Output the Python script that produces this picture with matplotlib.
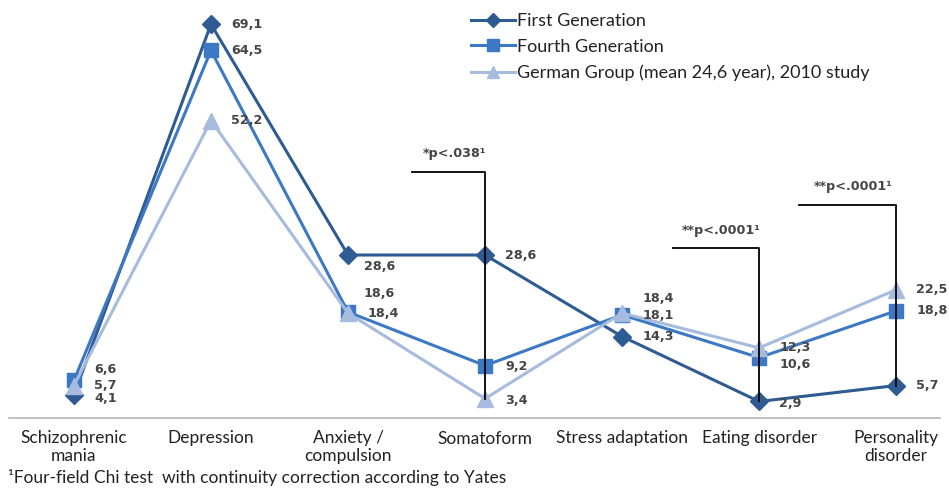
import matplotlib.pyplot as plt

categories = ["Schizophrenic\nmania", "Depression", "Anxiety /\ncompulsion", "Somatoform",
              "Stress adaptation", "Eating disorder", "Personality\ndisorder"]

first_gen = [4.1, 69.1, 28.6, 28.6, 14.3, 2.9, 5.7]
fourth_gen = [6.6, 64.5, 18.6, 9.2, 18.1, 10.6, 18.8]
german = [5.7, 52.2, 18.4, 3.4, 18.4, 12.3, 22.5]

series_names = ["First Generation", "Fourth Generation",
                "German Group (mean 24,6 year), 2010 study"]

# significance brackets: (category index, text)
sig_marks = [(3, "*p<.038\u00b9"), (5, "**p<.0001\u00b9"), (6, "**p<.0001\u00b9")]

footnote = "\u00b9Four-field Chi test  with continuity correction according to Yates"

W, H = 949, 491
fig = plt.figure(figsize=(W / 100, H / 100), dpi=100)
ax = fig.add_axes([9 / W, 1 - 418 / H, 931 / W, 416 / H])

x = list(range(len(categories)))
styles = [
    (first_gen, "#2f5b93", "D", 9),
    (fourth_gen, "#3c78c3", "s", 10),
    (german, "#a6bbde", "^", 11),
]
for (vals, col, mk, ms), name in zip(styles, series_names):
    ax.plot(x, vals, color=col, lw=2.2, marker=mk, ms=ms, mec=col, mfc=col,
            label=name, zorder=3)

# value labels, offsets in pixels (dx, dy)
offsets = [
    [(20, -4), (20, 0), (16, -11), (20, 0), (20, 0), (20, -2), (20, 0)],
    [(20, 11), (20, 0), (16, 19), (20, -1), (20, -1), (20, -7), (20, 0)],
    [(20, 0), (20, 0), (20, 0), (20, -2), (20, 15), (20, 0), (20, 0)],
]
lab_style = dict(fontsize=9.2, fontweight="bold", color="#454545")
for (vals, col, mk, ms), offs in zip(styles, offsets):
    for xi, v, (dx, dy) in zip(x, vals, offs):
        ax.annotate(f"{v:.1f}".replace(".", ","), (xi, v), xytext=(dx, dy),
                    textcoords="offset pixels", ha="left", va="center",
                    zorder=5, **lab_style)

# significance brackets
brackets = {3: (2.47, 43.2, 3.4), 5: (4.37, 29.8, 2.9), 6: (5.29, 37.4, 5.7)}
for idx, txt in sig_marks:
    x0, ytop, ybot = brackets[idx]
    ax.plot([x0, idx, idx], [ytop, ytop, ybot], color="black", lw=1.3, zorder=4)
    ax.text((x0 + idx) / 2 + 0.04, ytop + 2.0, txt, ha="center", va="bottom",
            **lab_style)

ax.set_xlim(-0.474, 6.32)
ax.set_ylim(0, 73)
ax.set_xticks(x)
ax.set_xticklabels(categories, fontsize=12.5, family="Lato", color="#222222",
                   linespacing=1.15, va="top")
ax.tick_params(axis="x", length=0, pad=9)
ax.set_yticks([])
for s in ["top", "left", "right"]:
    ax.spines[s].set_visible(False)
ax.spines["bottom"].set_color("#b5b5b5")
ax.spines["bottom"].set_linewidth(1.2)

leg = ax.legend(loc="upper left", bbox_to_anchor=(446 / 931, 1.013), frameon=False,
                prop={"family": "Lato", "size": 13}, handlelength=2.4, markerscale=0.8,
                handletextpad=0.15, labelspacing=0.55, labelcolor="#222222")

fig.text(8 / W, 1 - 478 / H, footnote, fontsize=12.5, family="Lato",
         color="#222222", va="center", ha="left")

fig.savefig("out.png", dpi=100)
